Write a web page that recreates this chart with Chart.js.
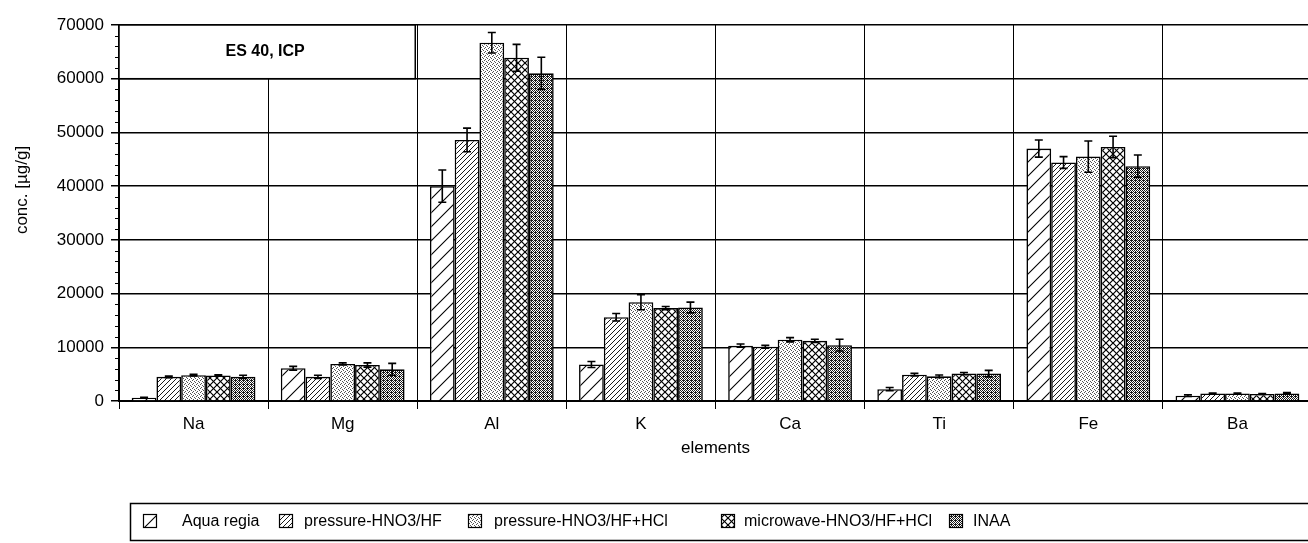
<!DOCTYPE html>
<html>
<head>
<meta charset="utf-8">
<title>ES 40, ICP</title>
<script src="https://cdn.jsdelivr.net/npm/chart.js@4.4.0/dist/chart.umd.min.js"></script>
<style>
  html, body { margin: 0; padding: 0; background: #fff; overflow: hidden; }
  #wrap { width: 1314px; height: 543px; }
</style>
</head>
<body>
<div id="wrap"><canvas id="chart" width="1314" height="543"></canvas></div>
<script>
// ============================================================
// Data
// ============================================================

const elements = ['Na', 'Mg', 'Al', 'K', 'Ca', 'Ti', 'Fe', 'Ba'];
const yTicks = [0, 10000, 20000, 30000, 40000, 50000, 60000, 70000];

const methodLabels = ['Aqua regia', 'pressure-HNO3/HF', 'pressure-HNO3/HF+HCl', 'microwave-HNO3/HF+HCl', 'INAA'];

const aquaRegia    = [600, 6100, 40000, 6800, 10300, 2200, 47000, 1000];
const pressureHF   = [4500, 4500, 48600, 15600, 10100, 4900, 44400, 1400];
const pressureHCl  = [4800, 6900, 66700, 18400, 11400, 4600, 45500, 1400];
const microwave    = [4750, 6700, 63900, 17300, 11200, 5100, 47300, 1300];
const inaa         = [4500, 5900, 61000, 17400, 10400, 5100, 43700, 1400];

// +/- error bar half-lengths
const aquaRegiaErr   = [100, 350, 3000, 550, 300, 300, 1600, 150];
const pressureHFErr  = [150, 300, 2200, 700, 250, 250, 1100, 100];
const pressureHClErr = [150, 200, 1900, 1400, 400, 250, 2900, 100];
const microwaveErr   = [150, 400, 2500, 300, 300, 200, 2000, 100];
const inaaErr        = [300, 1100, 3000, 1000, 1100, 600, 2100, 150];

const boxTitle = 'ES 40, ICP';

// ============================================================
// Fill patterns
// ============================================================

function tile(size, draw) {
  const c = document.createElement('canvas');
  c.width = size; c.height = size;
  const g = c.getContext('2d');
  g.fillStyle = '#fff';
  g.fillRect(0, 0, size, size);
  draw(g, size);
  return document.getElementById('chart').getContext('2d').createPattern(c, 'repeat');
}

function diag(g, s, dir) {
  g.beginPath();
  for (let k = -1; k <= 1; k++) {
    if (dir > 0) { g.moveTo(k * s - 1, s + 1); g.lineTo(k * s + s + 1, -1); }
    else { g.moveTo(k * s - 1, -1); g.lineTo(k * s + s + 1, s + 1); }
  }
  g.stroke();
}

function dots(g, pts, color) {
  g.fillStyle = color;
  pts.forEach(p => g.fillRect(p[0], p[1], 1, 1));
}

const patterns = [
  tile(14, (g, s) => { g.strokeStyle = '#000'; g.lineWidth = 1.1; diag(g, s, 1); }),
  tile(5, (g, s) => { g.strokeStyle = '#000'; g.lineWidth = 0.9; diag(g, s, 1); }),
  tile(4, g => dots(g, [[0, 0], [2, 1], [1, 3], [3, 2]], '#555')),
  tile(7, (g, s) => { g.strokeStyle = '#000'; g.lineWidth = 1.2; diag(g, s, 1); diag(g, s, -1); }),
  tile(4, g => dots(g, [[0, 0], [2, 0], [1, 1], [3, 1], [0, 2], [2, 2], [1, 3], [3, 3], [3, 0]], '#1a1a1a'))
];

const seriesValues = [aquaRegia, pressureHF, pressureHCl, microwave, inaa];
const seriesErrors = [aquaRegiaErr, pressureHFErr, pressureHClErr, microwaveErr, inaaErr];

// ============================================================
// Plugins
// ============================================================

const FONT = '"Liberation Sans", Arial, Helvetica, sans-serif';

// white title box over the top-left grid cells
const titleBox = {
  id: 'titleBox',
  beforeDatasetsDraw(chart) {
    const { ctx, scales: { x, y } } = chart;
    const left = chart.chartArea.left;
    const right = (x.getPixelForValue(1) + x.getPixelForValue(2)) / 2 - 2;
    const top = y.getPixelForValue(70000);
    const bottom = y.getPixelForValue(60000);
    ctx.save();
    ctx.fillStyle = '#fff';
    ctx.fillRect(left, top, right - left, bottom - top);
    ctx.strokeStyle = '#000';
    ctx.lineWidth = 1.5;
    ctx.strokeRect(left, top, right - left, bottom - top);
    ctx.fillStyle = '#000';
    ctx.font = 'bold 16px ' + FONT;
    ctx.textAlign = 'center';
    ctx.textBaseline = 'middle';
    ctx.fillText(boxTitle, (left + right) / 2 - 2, (top + bottom) / 2);
    ctx.restore();
  }
};

// error bars, minor y ticks, y title, legend
const extras = {
  id: 'extras',
  afterDatasetsDraw(chart) {
    const { ctx, scales: { y } } = chart;
    ctx.save();
    ctx.strokeStyle = '#000';
    ctx.lineWidth = 1.6;
    chart.data.datasets.forEach((ds, i) => {
      const meta = chart.getDatasetMeta(i);
      meta.data.forEach((bar, j) => {
        const v = seriesValues[i][j], e = seriesErrors[i][j];
        const y1 = y.getPixelForValue(v + e), y2 = y.getPixelForValue(v - e);
        ctx.beginPath();
        ctx.moveTo(bar.x, y1); ctx.lineTo(bar.x, y2);
        ctx.moveTo(bar.x - 4, y1); ctx.lineTo(bar.x + 4, y1);
        ctx.moveTo(bar.x - 4, y2); ctx.lineTo(bar.x + 4, y2);
        ctx.stroke();
      });
    });
    ctx.restore();
  },
  afterDraw(chart) {
    const { ctx, chartArea, scales: { y } } = chart;
    ctx.save();
    // minor ticks
    ctx.strokeStyle = '#000';
    ctx.lineWidth = 1;
    for (let v = 0; v <= 70000; v += 2000) {
      if (v % 10000 === 0) continue;
      const py = Math.round(y.getPixelForValue(v)) + 0.5;
      ctx.beginPath();
      ctx.moveTo(chartArea.left - 4, py);
      ctx.lineTo(chartArea.left, py);
      ctx.stroke();
    }
    // y title
    ctx.fillStyle = '#000';
    ctx.font = '17px ' + FONT;
    ctx.textAlign = 'center';
    ctx.textBaseline = 'middle';
    ctx.translate(22, 190);
    ctx.rotate(-Math.PI / 2);
    ctx.fillText('conc. [\u00b5g/g]', 0, 0);
    ctx.restore();

    // legend
    const swatchX = [143, 279, 468, 721, 949];
    const textX = [182, 304, 494, 744, 973];
    ctx.save();
    ctx.strokeStyle = '#000';
    ctx.lineWidth = 1.5;
    ctx.strokeRect(130.5, 503.5, 1300, 37);
    ctx.font = '16px ' + FONT;
    ctx.textBaseline = 'middle';
    chart.data.datasets.forEach((ds, i) => {
      ctx.fillStyle = ds.backgroundColor;
      ctx.fillRect(swatchX[i], 514, 14, 14);
      ctx.lineWidth = 1.2;
      ctx.strokeRect(swatchX[i] + 0.5, 514.5, 13, 13);
      ctx.fillStyle = '#000';
      ctx.fillText(ds.label, textX[i], 521.5);
    });
    ctx.restore();
  }
};

// ============================================================
// Chart
// ============================================================

function init() {
  const ctx = document.getElementById('chart').getContext('2d');
  new Chart(ctx, {
    type: 'bar',
    data: {
      labels: elements,
      datasets: methodLabels.map((label, i) => ({
        label: label,
        data: seriesValues[i],
        backgroundColor: patterns[i],
        borderColor: '#000',
        borderWidth: 1.6,
        categoryPercentage: 0.83,
        barPercentage: 1.0
      }))
    },
    options: {
      responsive: false,
      animation: false,
      devicePixelRatio: 1,
      layout: { padding: { top: 25, right: 2, bottom: 82, left: 0 } },
      plugins: {
        legend: { display: false },
        tooltip: { enabled: false }
      },
      scales: {
        x: {
          offset: true,
          grid: { offset: true, color: '#000', lineWidth: 1, tickLength: 8 },
          border: { color: '#000', width: 2 },
          ticks: { color: '#000', font: { family: FONT, size: 17 }, padding: 5 },
          title: { display: true, text: 'elements', color: '#000', font: { family: FONT, size: 17 }, padding: { top: 0, bottom: 2 } },
          afterFit: s => { s.height = 60; }
        },
        y: {
          min: 0,
          max: 70000,
          afterBuildTicks: s => { s.ticks = yTicks.map(v => ({ value: v })); },
          grid: { color: '#000', lineWidth: 1.5, tickLength: 8 },
          border: { color: '#000', width: 2 },
          ticks: { color: '#000', font: { family: FONT, size: 17 }, padding: 7, callback: v => String(v) },
          afterFit: s => { s.width = 119; }
        }
      }
    },
    plugins: [titleBox, extras]
  });
}

document.addEventListener('DOMContentLoaded', init);
</script>
</body>
</html>
